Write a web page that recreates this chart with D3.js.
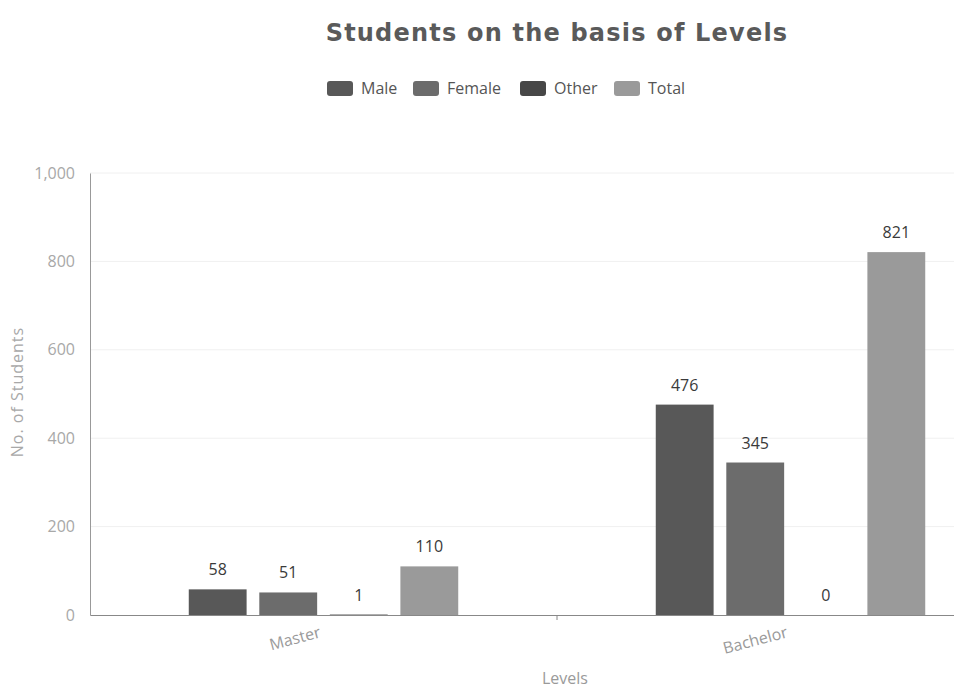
<!DOCTYPE html>
<html><head><meta charset="utf-8">
<script src="https://cdn.jsdelivr.net/npm/d3@7"></script>
<style>body{margin:0;background:#fff}svg{display:block}</style>
</head><body>
<svg id="c" width="954" height="689"></svg>
<script>
const categories = ["Master", "Bachelor"];
const seriesNames = ["Male", "Female", "Other", "Total"];
const male = [58, 476];
const female = [51, 345];
const other = [1, 0];
const total = [110, 821];
const yTicks = [0, 200, 400, 600, 800, 1000];
const colors = ["#585858", "#6c6c6c", "#474747", "#9a9a9a"];

const seriesValues = [male, female, other, total];
const svg = d3.select("#c");
const m = {left: 90, right: 1024, top: 173, bottom: 615};

const x = d3.scaleBand().domain(categories).range([m.left, m.right]);
const inner = d3.scaleBand().domain(seriesNames).range([0, x.bandwidth()]).paddingOuter(1.4).paddingInner(0.18);
const y = d3.scaleLinear().domain([0, 1000]).range([m.bottom, m.top]);

// grid
svg.append("g").selectAll("line").data(yTicks.slice(1)).join("line")
  .attr("x1", m.left).attr("x2", m.right)
  .attr("y1", d => y(d)).attr("y2", d => y(d))
  .attr("stroke", "#f0f0f0").attr("stroke-width", 1);

// y axis
const ya = svg.append("g").attr("transform", `translate(${m.left},0)`)
  .call(d3.axisLeft(y).tickValues(yTicks).tickSize(0).tickPadding(15).tickFormat(d3.format(",")));
ya.select(".domain").attr("stroke", "#999");
ya.selectAll("text").attr("fill", "#a8a8a8").style("font-family", "Open Sans").style("font-size", "16px");

// x axis
const xa = svg.append("g").attr("transform", `translate(0,${m.bottom})`)
  .call(d3.axisBottom(x).tickSize(0).tickFormat(""));
xa.select(".domain").attr("stroke", "#888");
svg.append("g").selectAll("line").data(categories.slice(1)).join("line")
  .attr("x1", d => x(d)).attr("x2", d => x(d))
  .attr("y1", m.bottom).attr("y2", m.bottom + 5).attr("stroke", "#888");
svg.append("g").selectAll("text").data(categories).join("text")
  .attr("transform", d => `translate(${x(d) + x.bandwidth()/2 - 2},${m.bottom + 22}) rotate(-15)`)
  .attr("text-anchor", "end")
  .attr("fill", "#9a9a9a").style("font-family", "Open Sans").style("font-size", "16px")
  .text(d => d);

// bars
const groups = svg.append("g").selectAll("g").data(categories).join("g")
  .attr("transform", d => `translate(${x(d)},0)`);
groups.each(function(cat, ci) {
  const g = d3.select(this);
  seriesNames.forEach((s, si) => {
    const v = seriesValues[si][ci];
    g.append("rect")
      .attr("x", inner(s)).attr("width", inner.bandwidth())
      .attr("y", y(v)).attr("height", y(0) - y(v))
      .attr("fill", colors[si]);
    g.append("text")
      .attr("x", inner(s) + inner.bandwidth()/2).attr("y", y(v) - 14)
      .attr("text-anchor", "middle").attr("fill", "#3a3a3a")
      .style("font-family", "Open Sans").style("font-size", "16px")
      .text(v);
  });
});

// axis titles
svg.append("text").attr("transform", `translate(23,${(m.top + m.bottom)/2 - 2}) rotate(-90)`)
  .attr("text-anchor", "middle").attr("fill", "#a8a8a8").style("letter-spacing", "1px")
  .style("font-family", "Open Sans").style("font-size", "16px").text("No. of Students");
svg.append("text").attr("x", 565).attr("y", 684)
  .attr("text-anchor", "middle").attr("fill", "#9a9a9a")
  .style("font-family", "Open Sans").style("font-size", "16px").text("Levels");

// title
svg.append("text").attr("x", 557).attr("y", 41).attr("text-anchor", "middle")
  .attr("fill", "#5a5a5a").style("font-family", "DejaVu Sans").style("font-weight", "bold")
  .style("letter-spacing", "1.2px")
  .style("font-size", "24px").text("Students on the basis of Levels");

// legend
const legendX = [327, 413, 520, 614];
const lg = svg.append("g").selectAll("g").data(seriesNames).join("g")
  .attr("transform", (d, i) => `translate(${legendX[i]},81)`);
lg.append("rect").attr("width", 26).attr("height", 15).attr("rx", 3).attr("fill", (d, i) => colors[i]);
lg.append("text").attr("x", 34).attr("y", 13).attr("fill", "#555")
  .style("font-family", "Open Sans").style("font-size", "16px").text(d => d);
</script>
</body></html>
